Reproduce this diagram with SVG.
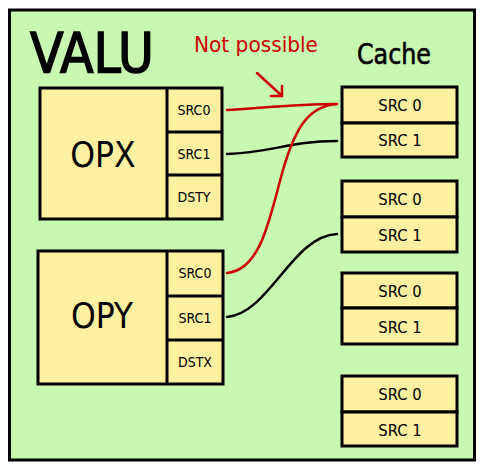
<svg xmlns="http://www.w3.org/2000/svg" width="484" height="470" viewBox="0 0 484 470">
<style>
.box{fill:#fdf0a0;stroke:#000;stroke-width:3}
.t{font-family:"Liberation Sans Narrow","DejaVu Sans Condensed","Liberation Sans",sans-serif;fill:#000;text-anchor:middle}
.port{font-size:14px}
.cl{font-size:16.5px}
.wire{fill:none;stroke-width:2.5;stroke-linecap:round}
</style>
<rect x="0" y="0" width="484" height="470" fill="#fff"/>
<rect x="9.5" y="10" width="465" height="450" fill="#c8f9b2" stroke="#000" stroke-width="3"/>
<text class="t" x="92" y="72" font-size="56" stroke="#000" stroke-width="1.5" textLength="124" lengthAdjust="spacingAndGlyphs">VALU</text>
<text class="t" x="394" y="64" font-size="28" stroke="#000" stroke-width="0.6" textLength="74" lengthAdjust="spacingAndGlyphs">Cache</text>
<text class="t" x="256" y="52" font-size="22" style="fill:#cc0000" textLength="124" lengthAdjust="spacingAndGlyphs">Not possible</text>
<g id="opx">
<rect class="box" x="40" y="88" width="182" height="131"/>
<line x1="167" y1="88" x2="167" y2="219" stroke="#000" stroke-width="3"/>
<line x1="167" y1="132" x2="222" y2="132" stroke="#000" stroke-width="3"/>
<line x1="167" y1="175" x2="222" y2="175" stroke="#000" stroke-width="3"/>
<text class="t" x="103" y="167" font-size="35">OPX</text>
<text class="t port" x="194" y="115">SRC0</text>
<text class="t port" x="194" y="159">SRC1</text>
<text class="t port" x="194" y="202">DSTY</text>
</g>
<g id="opy">
<rect class="box" x="38" y="251" width="185" height="133"/>
<line x1="167" y1="251" x2="167" y2="384" stroke="#000" stroke-width="3"/>
<line x1="167" y1="296" x2="223" y2="296" stroke="#000" stroke-width="3"/>
<line x1="167" y1="340" x2="223" y2="340" stroke="#000" stroke-width="3"/>
<text class="t" x="102" y="328" font-size="35">OPY</text>
<text class="t port" x="195" y="278">SRC0</text>
<text class="t port" x="195" y="323">SRC1</text>
<text class="t port" x="195" y="367">DSTX</text>
</g>
<g id="cache1">
<rect class="box" x="342" y="87" width="115" height="36"/>
<rect class="box" x="342" y="123" width="115" height="34"/>
<text class="t cl" x="400" y="111">SRC 0</text>
<text class="t cl" x="400" y="146">SRC 1</text>
</g>
<g id="cache2">
<rect class="box" x="342" y="181" width="115" height="36"/>
<rect class="box" x="342" y="217" width="115" height="35"/>
<text class="t cl" x="400" y="205">SRC 0</text>
<text class="t cl" x="400" y="241">SRC 1</text>
</g>
<g id="cache3">
<rect class="box" x="342" y="273" width="115" height="35"/>
<rect class="box" x="342" y="308" width="115" height="36"/>
<text class="t cl" x="400" y="297">SRC 0</text>
<text class="t cl" x="400" y="333">SRC 1</text>
</g>
<g id="cache4">
<rect class="box" x="342" y="376" width="115" height="36"/>
<rect class="box" x="342" y="412" width="115" height="34"/>
<text class="t cl" x="400" y="400">SRC 0</text>
<text class="t cl" x="400" y="436">SRC 1</text>
</g>
<g id="connectors">
<path class="wire" stroke="#cc0000" d="M227,110 C260,108 300,104 337,104"/>
<path class="wire" stroke="#000" d="M227,154 C270,153 290,141 337,141"/>
<path class="wire" stroke="#cc0000" d="M227,273 C262,270 270,215 283,170 C296,125 310,106 337,104"/>
<path class="wire" stroke="#000" d="M227,317 C270,313 292,236 337,234"/>
<path class="wire" stroke="#cc0000" d="M257,73 L281,95 M271,96 L282,96 L282,86"/>
</g>
</svg>
